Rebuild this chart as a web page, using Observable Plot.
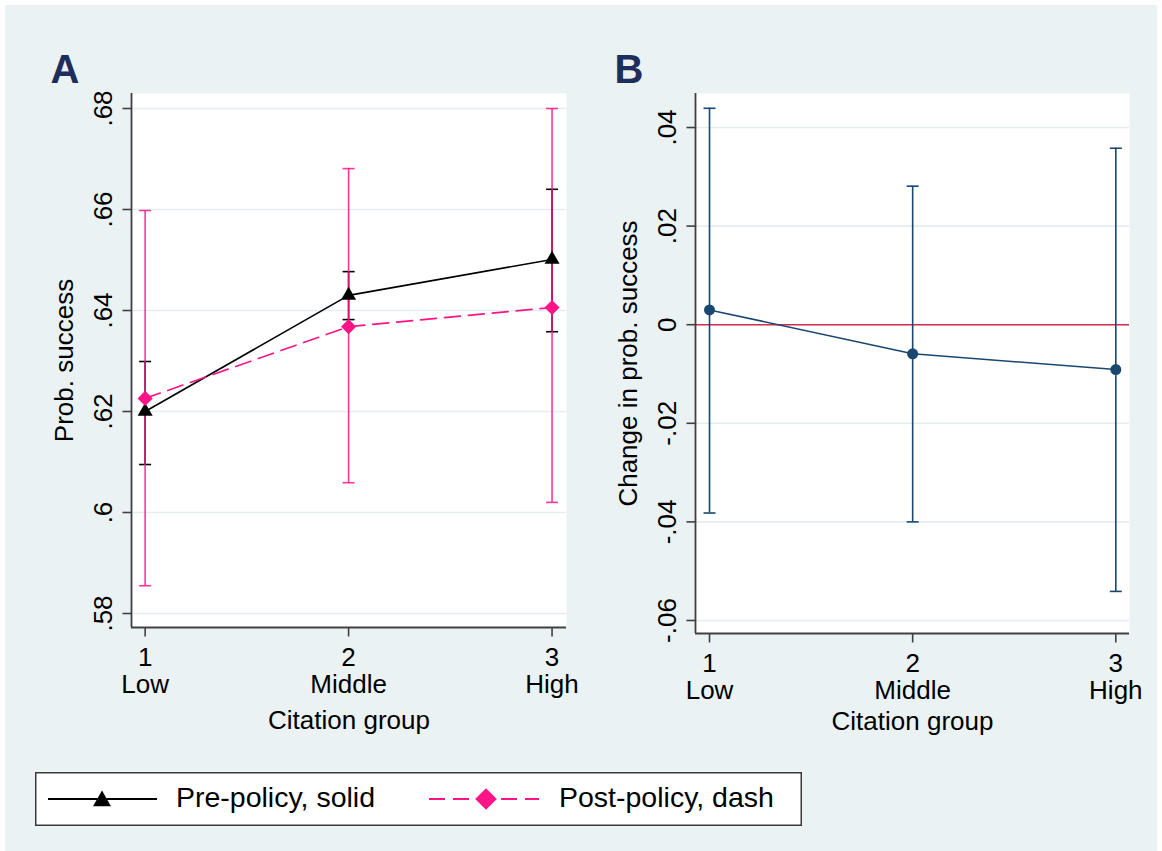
<!DOCTYPE html>
<html><head><meta charset="utf-8">
<script src="https://cdn.jsdelivr.net/npm/d3@7"></script>
<script src="https://cdn.jsdelivr.net/npm/@observablehq/plot@0.6"></script>
<style>
html,body{margin:0;padding:0;background:#fff;}
#page{position:relative;width:1162px;height:851px;overflow:hidden;font-family:"Liberation Sans",Arial,sans-serif;}
#bg{position:absolute;left:5px;top:5px;width:1152px;height:846px;background:#eaf2f3;}
.panel{position:absolute;top:0;}
#legend{position:absolute;left:35px;top:772px;}
svg{display:block;}
</style></head><body>
<div id="page"><div id="bg"></div><div id="panelA" class="panel" style="left:0px"></div><div id="panelB" class="panel" style="left:580px"></div><div id="legend"></div></div>
<script>
// ---- data ----
const groups = [1, 2, 3];
const groupLabels = ["Low", "Middle", "High"];
const prePoint = [0.6200, 0.6430, 0.6501];
const preLo    = [0.6095, 0.6382, 0.6358];
const preHi    = [0.6299, 0.6477, 0.6640];
const postPoint = [0.6226, 0.6368, 0.6406];
const postLo    = [0.5855, 0.6059, 0.6020];
const postHi    = [0.6598, 0.6681, 0.6800];
const diffPoint = [0.0030, -0.0059, -0.0091];
const diffLo    = [-0.0382, -0.0400, -0.0541];
const diffHi    = [0.0439, 0.0281, 0.0358];
const aTicks = [0.58, 0.60, 0.62, 0.64, 0.66, 0.68];
const aTickLabels = [".58", ".6", ".62", ".64", ".66", ".68"];
const bTicks = [-0.06, -0.04, -0.02, 0, 0.02, 0.04];
const bTickLabels = ["-.06", "-.04", "-.02", "0", ".02", ".04"];
const seriesNames = ["Pre-policy, solid", "Post-policy, dash"];
const panelTitles = ["A", "B"];
const yTitles = ["Prob. success", "Change in prob. success"];
const xTitle = "Citation group";

// ---- styles ----
const FONT = "'Liberation Sans', Arial, sans-serif";
const FS = 26;
const gridColor = "#e4edf0";
const axisColor = "#404040";
const pink = "#ff1488";
const navy = "#1a476f";
const titleNavy = "#1f2d5c";
const zeroRed = "#dc2a50";

const rows = (p, lo, hi) => groups.map((g, i) => ({x: g, y: p[i], lo: lo[i], hi: hi[i]}));
const pre = rows(prePoint, preLo, preHi);
const post = rows(postPoint, postLo, postHi);
const diff = rows(diffPoint, diffLo, diffHi);

const capSym = {draw(c) { c.moveTo(-6, 0); c.lineTo(6, 0); }};
const yTickSym = {draw(c) { c.moveTo(-9, 0); c.lineTo(0, 0); }};
const xTickSym = {draw(c) { c.moveTo(0, 0); c.lineTo(0, 9); }};

function ciMarks(data, color, opts = {}) {
  return [
    Plot.ruleX(data, {x: "x", y1: "lo", y2: "hi", stroke: color, strokeWidth: 1.6, ...opts}),
    Plot.dot(data, {x: "x", y: "lo", symbol: capSym, stroke: color, fill: "none", strokeWidth: 1.6, ...opts}),
    Plot.dot(data, {x: "x", y: "hi", symbol: capSym, stroke: color, fill: "none", strokeWidth: 1.6, ...opts})
  ];
}

function panel({width, marginLeft, marginRight, marginBottom, xDomain, yDomain, ticks, tickLabels, title, yTitle, marks, xTitleDy, tickDy}) {
  return Plot.plot({
    width, height: 760, marginLeft, marginRight, marginTop: 93, marginBottom,
    x: {domain: xDomain, axis: null},
    y: {domain: yDomain, axis: null},
    style: {fontFamily: FONT, fontSize: FS + "px", background: "none", overflow: "visible"},
    marks: [
      Plot.frame({fill: "white", stroke: null}),
      Plot.ruleY(ticks, {y: d => d, stroke: gridColor, strokeWidth: 1.6}),
      ...marks,
      Plot.ruleX([xDomain[0]], {stroke: axisColor, strokeWidth: 1.8}),
      Plot.ruleY([yDomain[0]], {stroke: axisColor, strokeWidth: 1.8}),
      Plot.dot(ticks, {y: d => d, frameAnchor: "left", symbol: yTickSym, stroke: axisColor, strokeWidth: 1.6}),
      Plot.dot(groups, {x: d => d, frameAnchor: "bottom", symbol: xTickSym, stroke: axisColor, strokeWidth: 1.6}),
      Plot.text(ticks, {y: d => d, text: (d, i) => tickLabels[i], frameAnchor: "left", dx: -28, rotate: -90, textAnchor: "middle", lineAnchor: "middle", fontSize: FS, fill: "black"}),
      Plot.text(groups, {x: d => d, text: (d, i) => `${d}\n${groupLabels[i]}`, frameAnchor: "bottom", dy: tickDy, lineAnchor: "bottom", lineHeight: 1.02, fontSize: FS, fill: "black"}),
      Plot.text([xTitle], {text: d => d, frameAnchor: "bottom", dy: xTitleDy, lineAnchor: "bottom", fontSize: FS, fill: "black"}),
      Plot.text([yTitle], {text: d => d, frameAnchor: "left", dx: -67, rotate: -90, textAnchor: "middle", lineAnchor: "middle", fontSize: FS, fill: "black"}),
      Plot.text([title], {text: d => d, frameAnchor: "top-left", dx: -81, dy: -11, textAnchor: "start", lineAnchor: "bottom", fontSize: 40, fontWeight: "bold", fill: titleNavy})
    ]
  });
}

const chartA = panel({
  width: 580, marginLeft: 131, marginRight: 14, marginBottom: 133,
  xDomain: [0.933, 3.071], yDomain: [0.57723, 0.68297],
  ticks: aTicks, tickLabels: aTickLabels, title: panelTitles[0], yTitle: yTitles[0],
  xTitleDy: 101, tickDy: 65,
  marks: [
    ...ciMarks(pre, "black"),
    ...ciMarks(post, pink, {strokeOpacity: 0.85}),
    Plot.line(pre, {x: "x", y: "y", stroke: "black", strokeWidth: 1.6}),
    Plot.line(post, {x: "x", y: "y", stroke: pink, strokeWidth: 1.6, strokeDasharray: "16,8"}),
    Plot.dot(pre, {x: "x", y: "y", symbol: "triangle", r: 5.6, fill: "black", stroke: null}),
    Plot.dot(post, {x: "x", y: "y", symbol: "diamond2", r: 6.8, fill: pink, stroke: null})
  ]
});
document.getElementById("panelA").append(chartA);

const chartB = panel({
  width: 582, marginLeft: 115, marginRight: 33, marginBottom: 127,
  xDomain: [0.931, 3.0674], yDomain: [-0.06264, 0.0469],
  ticks: bTicks, tickLabels: bTickLabels, title: panelTitles[1], yTitle: yTitles[1],
  xTitleDy: 96, tickDy: 65,
  marks: [
    Plot.ruleY([0], {stroke: zeroRed, strokeWidth: 1.6}),
    ...ciMarks(diff, navy),
    Plot.line(diff, {x: "x", y: "y", stroke: navy, strokeWidth: 1.6}),
    Plot.dot(diff, {x: "x", y: "y", r: 5.5, fill: navy, stroke: null})
  ]
});
document.getElementById("panelB").append(chartB);

// ---- legend ----
const lg = d3.select("#legend").append("svg").attr("width", 767).attr("height", 54)
  .style("font-family", FONT);
lg.append("rect").attr("x", 0.75).attr("y", 0.75).attr("width", 765.5).attr("height", 52.5)
  .attr("fill", "white").attr("stroke", "#3a3a3a").attr("stroke-width", 1.5);
const keys = [
  {x0: 13, x1: 122, cx: 67, tx: 141, color: "black", dash: null, sym: d3.symbolTriangle, size: 140},
  {x0: 394, x1: 504, cx: 451, tx: 524, color: pink, dash: "16,8", sym: d3.symbolDiamond2, size: 300}
];
keys.forEach((k, i) => {
  lg.append("line").attr("x1", k.x0).attr("x2", k.x1).attr("y1", 27).attr("y2", 27)
    .attr("stroke", k.color).attr("stroke-width", 2).attr("stroke-dasharray", k.dash);
  lg.append("path").attr("d", d3.symbol(k.sym, k.size)())
    .attr("transform", `translate(${k.cx},${i === 0 ? 29 : 27})`).attr("fill", k.color);
  lg.append("text").attr("x", k.tx).attr("y", 35).attr("font-size", 28.5).attr("fill", "black")
    .text(seriesNames[i]);
});
</script>
</body></html>
